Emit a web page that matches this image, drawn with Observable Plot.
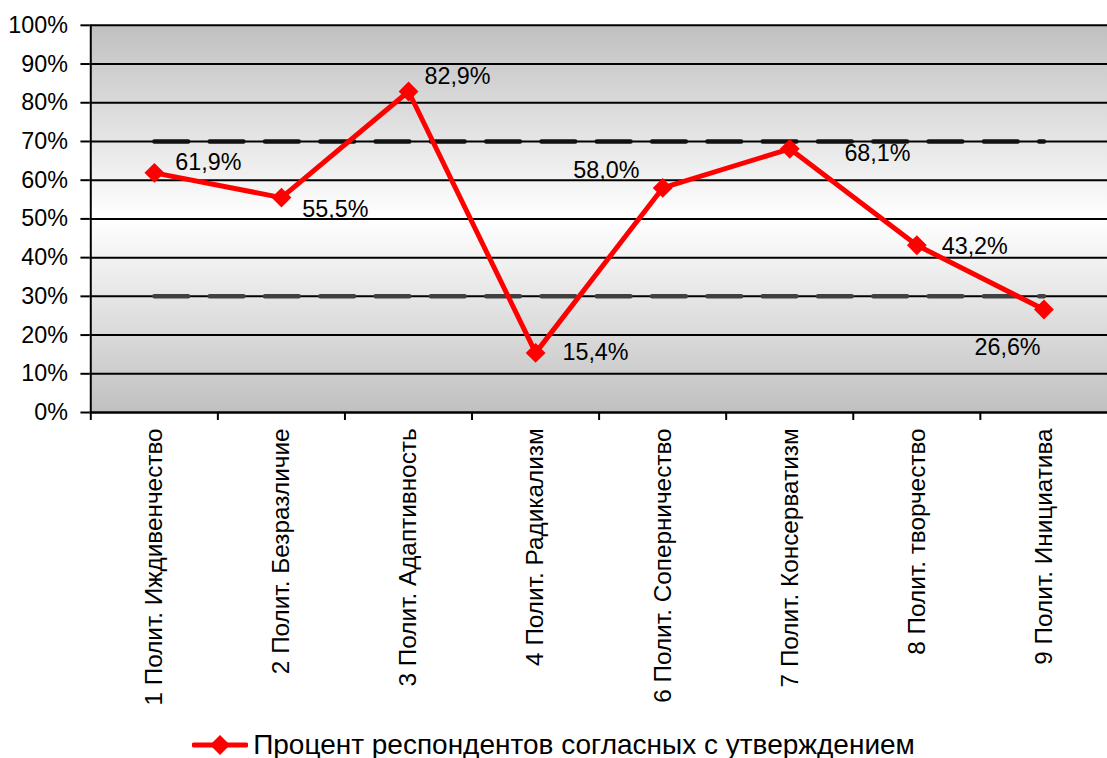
<!DOCTYPE html>
<html>
<head>
<meta charset="utf-8">
<script src="https://cdn.jsdelivr.net/npm/d3@7"></script>
<script src="https://cdn.jsdelivr.net/npm/@observablehq/plot@0.6"></script>
<style>
  html, body { margin: 0; padding: 0; background: #fff; overflow: hidden; }
  body { width: 1107px; height: 758px; font-family: "Liberation Sans", Arial, sans-serif; }
  #chart { width: 1107px; height: 715px; overflow: hidden; }
  #legend { display: flex; align-items: center; justify-content: center; height: 32px; padding-top: 14px; font-size: 28px; color: #000; }
  #legend svg { margin-right: 5px; }
</style>
</head>
<body>
<div id="chart"></div>
<div id="legend"></div>
<script>
// ---- data ----
const categories = [
  "1 Полит. Иждивенчество",
  "2 Полит. Безразличие",
  "3 Полит. Адаптивность",
  "4 Полит. Радикализм",
  "6 Полит. Соперничество",
  "7 Полит. Консерватизм",
  "8 Полит. творчество",
  "9 Полит. Инициатива"
];
const values = [61.9, 55.5, 82.9, 15.4, 58.0, 68.1, 43.2, 26.6];
const upperLevel = [70, 70, 70, 70, 70, 70, 70, 70];
const lowerLevel = [30, 30, 30, 30, 30, 30, 30, 30];
const yTicks = [0, 10, 20, 30, 40, 50, 60, 70, 80, 90, 100];
const seriesName = "Процент респондентов согласных с утверждением";

// ---- label placement (style, not data) ----
const labelOffsets = [[21, -10], [21, 12], [16, -15], [27, 0], [-90, -18], [55, 5], [25, 1], [-70, 38]];

// ---- layout ----
const W = 1115, H = 715, mL = 90, mR = 0, mT = 25, mB = 300;
const step = (W - mL - mR) / categories.length;
const FONT = "'Liberation Sans', Arial, sans-serif";

const rows = categories.map((c, i) => ({c, v: values[i], up: upperLevel[i], low: lowerLevel[i], i}));
const fmt = v => v.toFixed(1).replace(".", ",") + "%";

const labelMarks = rows.map((r, i) => Plot.text([r], {
  x: "c", y: "v", text: d => fmt(d.v),
  textAnchor: "start", dx: labelOffsets[i][0], dy: labelOffsets[i][1],
  fontSize: 23.5, fill: "#000"
}));

const chart = Plot.plot({
  width: W, height: H,
  marginLeft: mL, marginRight: mR, marginTop: mT, marginBottom: mB,
  style: {fontFamily: FONT, fontSize: "23px", color: "#000", background: "transparent", overflow: "visible"},
  x: {type: "point", domain: categories, padding: 0.5, axis: null},
  y: {domain: [0, 100], axis: null},
  marks: [
    Plot.frame({fill: "url(#bggrad)", stroke: null}),
    Plot.ruleY(yTicks.filter(d => d > 0), {stroke: "#000", strokeWidth: 2}),
    // dashed threshold series
    Plot.line(rows, {x: "c", y: "up", stroke: "#111", strokeWidth: 4.5, strokeDasharray: "34,21.7", strokeLinecap: "round"}),
    Plot.line(rows, {x: "c", y: "low", stroke: "#404040", strokeWidth: 4.5, strokeDasharray: "34,21.7", strokeLinecap: "round"}),
    // axes lines
    Plot.ruleY([0], {stroke: "#000", strokeWidth: 2.5}),
    Plot.ruleX([categories[0]], {dx: -step / 2, y1: 0, y2: 100, stroke: "#000", strokeWidth: 2}),
    Plot.ruleX(categories, {dx: -step / 2, y1: 0, y2: 0, insetBottom: -8, stroke: "#000", strokeWidth: 2}),
    Plot.axisY({ticks: yTicks, tickFormat: d => d + "%", tickSize: 9, tickPadding: 13, fontSize: 23.5, stroke: "#000", strokeWidth: 2, label: null}),
    Plot.axisX({tickRotate: -90, tickSize: 0, tickPadding: 16, fontSize: 24.5, label: null}),
    // main series
    Plot.line(rows, {x: "c", y: "v", stroke: "#ff0000", strokeWidth: 5}),
    Plot.dot(rows, {x: "c", y: "v", symbol: "diamond2", r: 9, fill: "#ff0000", stroke: null}),
    ...labelMarks
  ]
});

// gradient definition for the plot background
const ns = "http://www.w3.org/2000/svg";
const defs = document.createElementNS(ns, "defs");
const grad = document.createElementNS(ns, "linearGradient");
grad.setAttribute("id", "bggrad");
grad.setAttribute("x1", "0"); grad.setAttribute("y1", "0");
grad.setAttribute("x2", "0"); grad.setAttribute("y2", "1");
[["0%", "#c0c0c0"], ["50%", "#ffffff"], ["100%", "#c0c0c0"]].forEach(([o, c]) => {
  const s = document.createElementNS(ns, "stop");
  s.setAttribute("offset", o); s.setAttribute("stop-color", c);
  grad.appendChild(s);
});
defs.appendChild(grad);
chart.insertBefore(defs, chart.firstChild);
document.getElementById("chart").appendChild(chart);

// legend
const legend = document.getElementById("legend");
const sw = d3.create("svg").attr("width", 56).attr("height", 24);
sw.append("line").attr("x1", 2).attr("x2", 54).attr("y1", 12).attr("y2", 12).attr("stroke", "#ff0000").attr("stroke-width", 5).attr("stroke-linecap", "round");
sw.append("path").attr("d", d3.symbol(d3.symbolDiamond2, Math.PI * 9 * 9)()).attr("transform", "translate(28,12)").attr("fill", "#ff0000");
legend.appendChild(sw.node());
const span = document.createElement("span");
span.textContent = seriesName;
legend.appendChild(span);
</script>
</body>
</html>
